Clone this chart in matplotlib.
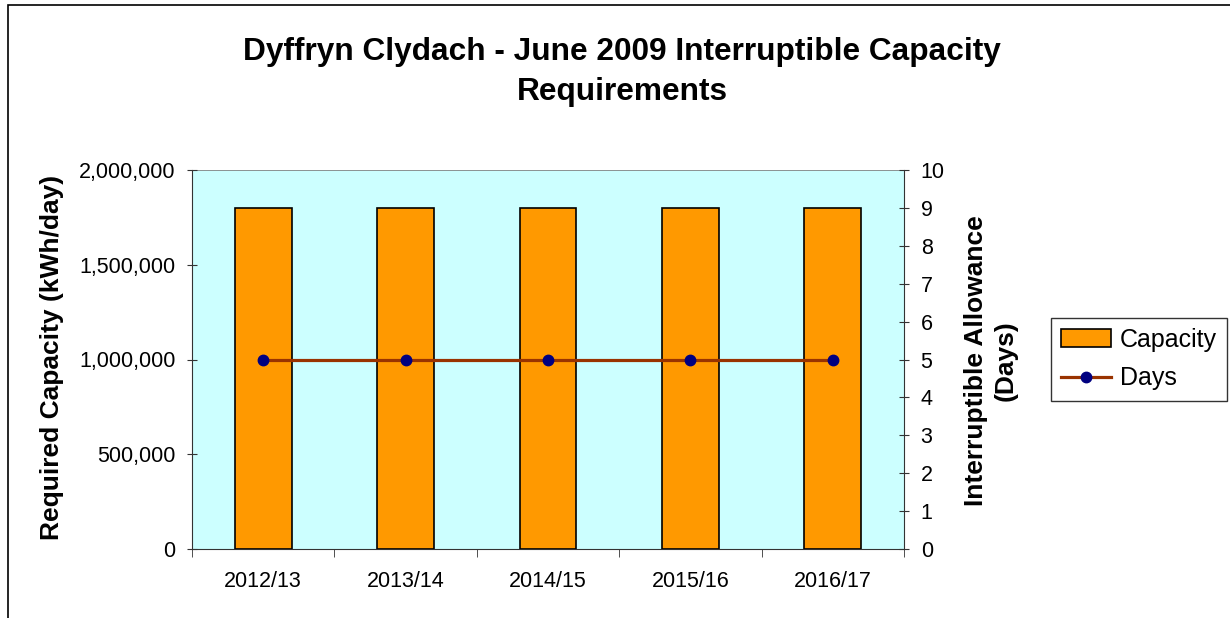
import matplotlib
matplotlib.use("Agg")
import matplotlib.pyplot as plt
from matplotlib.ticker import FuncFormatter, MultipleLocator
from matplotlib.patches import Rectangle

categories = ["2012/13", "2013/14", "2014/15", "2015/16", "2016/17"]
capacity = [1800000, 1800000, 1800000, 1800000, 1800000]
days = [5, 5, 5, 5, 5]

plt.rcParams['font.family'] = ['Liberation Sans', 'DejaVu Sans']

W, H = 1230, 618
fig = plt.figure(figsize=(W / 100, H / 100), dpi=100)

# figure border (left and top visible)
fig.patches.append(Rectangle((8 / W, -0.1), 1.2, (H - 5) / H + 0.1, transform=fig.transFigure,
                             fill=False, edgecolor="black", linewidth=1.2))

left, right, top, bottom = 192, 904, 170, 549
ax = fig.add_axes([left / W, 1 - bottom / H, (right - left) / W, (bottom - top) / H])
ax.set_facecolor("#CCFFFF")

x = list(range(len(categories)))
ax.bar(x, capacity, width=0.4, color="#FF9900", edgecolor="black", linewidth=1.2, label="Capacity", zorder=2)
ax.set_xlim(-0.5, len(categories) - 0.5)
ax.set_ylim(0, 2000000)
ax.yaxis.set_major_locator(MultipleLocator(500000))
ax.yaxis.set_major_formatter(FuncFormatter(lambda v, p: f"{int(v):,}"))
ax.set_xticks(x)
ax.set_xticklabels(categories, fontsize=15.5)
ax.set_xticks([i - 0.5 for i in range(len(categories) + 1)], minor=True)
ax.tick_params(axis="x", which="major", length=0, pad=16)
ax.tick_params(axis="x", which="minor", length=6, direction="out", color="#333333")
ax.tick_params(axis="y", labelsize=15.5, length=7, direction="inout", color="#333333", pad=8.5)
for s in ["top", "right"]:
    ax.spines[s].set_visible(False)
ax.spines["left"].set_color("#333333")
ax.spines["bottom"].set_color("#333333")
ax.axhline(2000000, color="#808080", linewidth=1.2, zorder=1)

ax2 = ax.twinx()
ax2.plot(x, days, color="#993300", linewidth=2.3, marker="o", markersize=7.5,
         markerfacecolor="#000080", markeredgecolor="#000080", label="Days", zorder=3)
ax2.set_ylim(0, 10)
ax2.yaxis.set_major_locator(MultipleLocator(1))
ax2.tick_params(axis="y", labelsize=15.5, length=7, direction="inout", color="#333333", pad=8.5)
for s in ["top", "left", "bottom"]:
    ax2.spines[s].set_visible(False)
ax2.spines["right"].set_color("#333333")

fig.text(52 / W, 1 - 357 / H, "Required Capacity (kWh/day)", rotation=90,
         ha="center", va="center", fontsize=19, fontweight="bold")
fig.text(991 / W, 1 - 361 / H, "Interruptible Allowance\n(Days)", rotation=90,
         ha="center", va="center", fontsize=19, fontweight="bold", linespacing=1.27,
         multialignment="center")

fig.text(622 / W, 1 - 72 / H, "Dyffryn Clydach - June 2009 Interruptible Capacity\nRequirements",
         ha="center", va="center", fontsize=22.8, fontweight="bold", linespacing=1.45)

h1, l1 = ax.get_legend_handles_labels()
h2, l2 = ax2.get_legend_handles_labels()
leg = fig.legend(h1 + h2, l1 + l2, loc="center", bbox_to_anchor=(1139 / W, 1 - 359 / H),
                 fontsize=18, frameon=True, fancybox=False, edgecolor="black",
                 handlelength=2.0, borderpad=0.4, labelspacing=0.6, handletextpad=0.35,
                 borderaxespad=0)
leg.get_frame().set_linewidth(1.0)

fig.savefig("out.png", dpi=100)
